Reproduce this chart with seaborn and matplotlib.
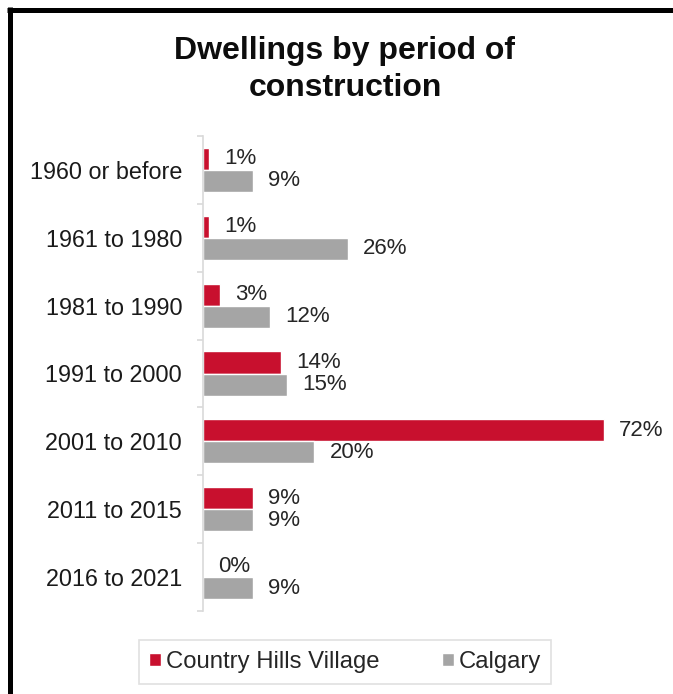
import matplotlib
matplotlib.use("Agg")
import matplotlib.pyplot as plt
from matplotlib.lines import Line2D
import seaborn as sns
import pandas as pd
import numpy as np

categories = ["1960 or before", "1961 to 1980", "1981 to 1990", "1991 to 2000",
              "2001 to 2010", "2011 to 2015", "2016 to 2021"]
country_hills = [1, 1, 3, 14, 72, 9, 0]
calgary = [9, 26, 12, 15, 20, 9, 9]
series_names = ["Country Hills Village", "Calgary"]
colors = ["#C8102E", "#A5A5A5"]
title = "Dwellings by period of\nconstruction"

df = pd.DataFrame({
    "period": categories * 2,
    "value": country_hills + calgary,
    "series": [series_names[0]] * len(categories) + [series_names[1]] * len(categories),
})

sns.set_style("white")
plt.rcParams["font.family"] = ["Liberation Sans", "DejaVu Sans"]

W, H = 673, 694
fig = plt.figure(figsize=(W / 100, H / 100), dpi=100)
ax = fig.add_axes([203 / W, 1 - 611 / H, 445.6 / W, (611 - 136) / H])

sns.barplot(data=df, y="period", x="value", hue="series", order=categories,
            hue_order=series_names, palette=colors, orient="h", width=0.65,
            ax=ax, saturation=1, legend=True)

ax.set_xlim(0, 80)
ax.set_ylim(6.5, -0.5)
ax.set_xlabel("")
ax.set_ylabel("")
ax.set_xticks([])
for s in ["top", "right", "bottom"]:
    ax.spines[s].set_visible(False)
ax.spines["left"].set_color("#D9D9D9")
ax.spines["left"].set_linewidth(1.2)

ax.set_yticks(range(len(categories)))
ax.set_yticklabels(categories, fontsize=16.8, color="#1a1a1a")
ax.tick_params(axis="y", which="major", length=0, pad=15)
ax.set_yticks(np.arange(-0.5, len(categories), 1.0), minor=True)
ax.tick_params(axis="y", which="minor", length=4, width=1.2, color="#D9D9D9", left=True)

for cont, vals in zip(ax.containers, [country_hills, calgary]):
    ax.bar_label(cont, labels=[f"{v}%" for v in vals], padding=11, fontsize=16,
                 color="#262626")

leg = ax.legend(loc="center", bbox_to_anchor=(345 / W, 1 - 662 / H),
                bbox_transform=fig.transFigure, ncol=2, fontsize=17.2,
                frameon=True, fancybox=False, handlelength=0.5, handleheight=0.5,
                handletextpad=0.2, columnspacing=2.6, borderpad=0.45,
                borderaxespad=0, edgecolor="#D9D9D9")
leg.get_frame().set_linewidth(1.2)

fig.text(345 / W, 1 - 36 / H, title, ha="center", va="top", fontsize=23,
         fontweight="bold", linespacing=1.3, color="#0d0d0d")

# outer border (left and top)
fig.add_artist(Line2D([9.5 / W, 9.5 / W], [0, 1 - 7 / H], transform=fig.transFigure,
                      color="black", linewidth=3.6, solid_capstyle="butt"))
fig.add_artist(Line2D([7 / W, 1], [1 - 9.5 / H, 1 - 9.5 / H], transform=fig.transFigure,
                      color="black", linewidth=3.6, solid_capstyle="butt"))

fig.savefig("out.png", dpi=100)
